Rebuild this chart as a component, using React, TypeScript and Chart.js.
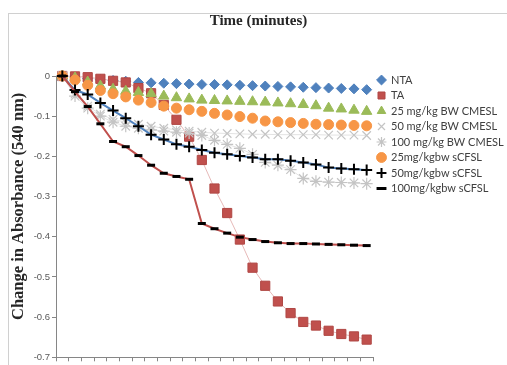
import React, { useEffect, useRef } from 'react';
import { Chart, registerables } from 'chart.js';

Chart.register(...registerables);

const timeLabels = ['0', '1', '2', '3', '4', '5', '6', '7', '8', '9', '10', '11', '12', '13', '14', '15', '16', '17', '18', '19', '20', '21', '22', '23', '24'];
const yTickLabels = ['-0.7', '-0.6', '-0.5', '-0.4', '-0.3', '-0.2', '-0.1', '0'];

const seriesNames = ['NTA', 'TA', '25 mg/kg BW CMESL', '50 mg/kg BW CMESL', '100 mg/kg BW CMESL', '25mg/kgbw sCFSL', '50mg/kgbw sCFSL', '100mg/kgbw sCFSL'];

const ntaValues = [0, -0.003, -0.006, -0.009, -0.011, -0.013, -0.016, -0.017, -0.018, -0.019, -0.02, -0.021, -0.021, -0.022, -0.023, -0.024, -0.025, -0.026, -0.027, -0.028, -0.029, -0.03, -0.031, -0.032, -0.034];
const taValues = [0, -0.001, -0.003, -0.007, -0.012, -0.016, -0.03, -0.043, -0.072, -0.109, -0.151, -0.209, -0.28, -0.341, -0.407, -0.477, -0.522, -0.561, -0.59, -0.612, -0.621, -0.634, -0.642, -0.648, -0.656];
const cmesl25Values = [0, -0.005, -0.015, -0.025, -0.033, -0.038, -0.041, -0.044, -0.05, -0.054, -0.057, -0.06, -0.061, -0.062, -0.063, -0.064, -0.065, -0.067, -0.069, -0.071, -0.074, -0.08, -0.082, -0.085, -0.088];
const cmesl50Values = [0, -0.045, -0.075, -0.095, -0.108, -0.115, -0.12, -0.125, -0.13, -0.134, -0.137, -0.14, -0.142, -0.143, -0.144, -0.145, -0.145, -0.146, -0.146, -0.146, -0.146, -0.147, -0.147, -0.147, -0.148];
const cmesl100Values = [0, -0.05, -0.08, -0.1, -0.115, -0.125, -0.13, -0.134, -0.137, -0.14, -0.142, -0.148, -0.16, -0.17, -0.18, -0.195, -0.215, -0.222, -0.233, -0.255, -0.262, -0.264, -0.265, -0.266, -0.268];
const scfsl25Values = [0, -0.01, -0.023, -0.036, -0.044, -0.052, -0.06, -0.066, -0.075, -0.08, -0.084, -0.088, -0.093, -0.097, -0.101, -0.105, -0.112, -0.114, -0.116, -0.118, -0.12, -0.121, -0.122, -0.123, -0.124];
const scfsl50Values = [0, -0.035, -0.046, -0.067, -0.086, -0.105, -0.125, -0.146, -0.158, -0.17, -0.176, -0.184, -0.191, -0.195, -0.199, -0.203, -0.207, -0.207, -0.211, -0.215, -0.22, -0.228, -0.23, -0.232, -0.234];
const scfsl100Values = [0, -0.039, -0.076, -0.119, -0.163, -0.176, -0.198, -0.222, -0.242, -0.25, -0.257, -0.367, -0.38, -0.391, -0.401, -0.407, -0.412, -0.415, -0.417, -0.417, -0.418, -0.419, -0.42, -0.421, -0.422];

const legendShift = {
  id: 'legendShift',
  afterLayout(chart: any) {
    const lg = chart.legend;
    if (lg) {
      const h = lg.height;
      lg.top = chart.chartArea.top - 6;
      lg.bottom = lg.top + h;
    }
  },
};

export default function App() {
  const ref = useRef<HTMLCanvasElement>(null);
  useEffect(() => {
    const base = { tension: 0, clip: false as any, pointHoverRadius: 0 };
    const datasets: any[] = [
      { ...base, label: seriesNames[0], data: ntaValues, showLine: false, pointStyle: 'rectRot', pointRadius: 5, pointBackgroundColor: '#4F81BD', pointBorderColor: '#4F81BD', pointBorderWidth: 1, borderColor: '#4F81BD', backgroundColor: '#4F81BD' },
      { ...base, label: seriesNames[1], data: taValues, borderColor: '#E6B9B8', borderWidth: 1, backgroundColor: '#C0504D', pointStyle: 'rect', pointRadius: 6.5, pointBackgroundColor: '#C0504D', pointBorderColor: '#B04744', pointBorderWidth: 1 },
      { ...base, label: seriesNames[2], data: cmesl25Values, showLine: false, pointStyle: 'triangle', pointRadius: 6, pointBackgroundColor: '#9BBB59', pointBorderColor: '#9BBB59', pointBorderWidth: 1, borderColor: '#9BBB59', backgroundColor: '#9BBB59' },
      { ...base, label: seriesNames[3], data: cmesl50Values, borderColor: '#E3E3E3', borderWidth: 1, backgroundColor: '#C4C4C4', pointStyle: 'crossRot', pointRadius: 6, pointBackgroundColor: '#C4C4C4', pointBorderColor: '#C4C4C4', pointBorderWidth: 1.2 },
      { ...base, label: seriesNames[4], data: cmesl100Values, borderColor: '#E3E3E3', borderWidth: 1, backgroundColor: '#C4C4C4', pointStyle: 'star', pointRadius: 6, pointBackgroundColor: '#C4C4C4', pointBorderColor: '#C4C4C4', pointBorderWidth: 1.2 },
      { ...base, label: seriesNames[5], data: scfsl25Values, showLine: false, pointStyle: 'circle', pointRadius: 5, pointBackgroundColor: '#F79646', pointBorderColor: '#F79646', pointBorderWidth: 1, borderColor: '#F79646', backgroundColor: '#F79646' },
      { ...base, label: seriesNames[6], data: scfsl50Values, borderColor: '#4F81BD', borderWidth: 2, backgroundColor: '#000000', pointStyle: 'cross', pointRadius: 5.5, pointBackgroundColor: '#000000', pointBorderColor: '#000000', pointBorderWidth: 2 },
      { ...base, label: seriesNames[7], data: scfsl100Values, borderColor: '#C0504D', borderWidth: 2, backgroundColor: '#000000', pointStyle: 'line', pointRadius: 4, pointBackgroundColor: '#000000', pointBorderColor: '#000000', pointBorderWidth: 3 },
    ];
    datasets.forEach((d, i) => { d.order = datasets.length - i; });

    const chart = new Chart(ref.current as HTMLCanvasElement, {
      type: 'line',
      data: { labels: timeLabels, datasets },
      options: {
        animation: false,
        responsive: false,
        maintainAspectRatio: false,
        events: [],
        layout: { padding: { left: 10, right: 0, top: 0, bottom: 0 } },
        plugins: {
          title: {
            display: true,
            text: 'Time (minutes)',
            color: '#262626',
            font: { family: 'Liberation Serif', size: 15, weight: 'bold', lineHeight: 1.2 },
            padding: { top: 12, bottom: 46 },
          },
          legend: {
            position: 'right',
            align: 'start',
            maxWidth: 134,
            labels: {
              usePointStyle: true,
              boxWidth: 8,
              boxHeight: 7,
              padding: 4.5,
              color: '#404040',
              font: { family: 'Lato', size: 11 },
              sort: (a: any, b: any) => a.datasetIndex - b.datasetIndex,
            },
          },
          tooltip: { enabled: false },
        },
        scales: {
          x: {
            type: 'category',
            offset: true,
            grid: { display: true, drawOnChartArea: false, drawTicks: true, tickLength: 4, offset: true, color: '#868686' },
            border: { display: true, color: '#868686' },
            ticks: { display: false },
          },
          y: {
            min: -0.7,
            max: 0,
            afterFit: (s: any) => { s.width = 46; },
            grid: { drawOnChartArea: false, drawTicks: true, tickLength: 4, color: '#868686' },
            border: { display: true, color: '#868686' },
            ticks: {
              stepSize: 0.1,
              padding: 2,
              color: '#595959',
              font: { family: 'Liberation Sans', size: 9.5 },
              callback: (_v: any, i: number) => yTickLabels[i],
            },
            title: {
              display: true,
              text: '     Change in Absorbance (540 nm)',
              color: '#262626',
              font: { family: 'Liberation Serif', size: 16.5, weight: 'bold', lineHeight: 1 },
              padding: { top: 0, bottom: 0 },
            },
          },
        },
      },
      plugins: [legendShift],
    });
    return () => chart.destroy();
  }, []);

  return (
    <div style={{ position: 'fixed', left: 0, top: 0, width: 507, height: 365, background: '#fff', overflow: 'hidden' }}>
      <div style={{ position: 'absolute', left: 8, top: 13, width: 499, height: 352, borderTop: '1px solid #D0D0D0', borderLeft: '1px solid #D0D0D0', boxSizing: 'border-box' }} />
      <canvas ref={ref} width={507} height={365} style={{ position: 'absolute', left: 0, top: 0, width: 507, height: 365 }} />
    </div>
  );
}
